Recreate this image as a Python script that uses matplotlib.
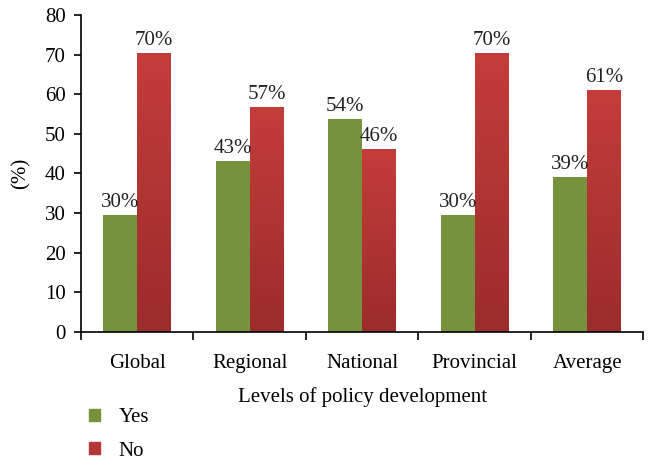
import numpy as np
import matplotlib.pyplot as plt
from matplotlib.colors import LinearSegmentedColormap

plt.rcParams['font.family'] = ['Liberation Serif', 'DejaVu Serif']

categories = ['Global', 'Regional', 'National', 'Provincial', 'Average']
yes = [29.6, 43.2, 53.8, 29.6, 39.0]
no = [70.4, 56.8, 46.2, 70.4, 61.0]

fig = plt.figure(figsize=(6.48, 4.65), dpi=100)
ax = fig.add_axes([0.125, 0.286, 0.868, 0.682])

x = np.arange(len(categories))
w = 0.3
green = '#76923C'
red_cmap = LinearSegmentedColormap.from_list('red', ['#9B2C2C', '#C43D3B'])

b1 = ax.bar(x - w / 2, yes, w, color=green, label='Yes')
b2 = ax.bar(x + w / 2, no, w, color='#B53636', label='No')

# gradient fill for the red bars
grad = np.linspace(0, 1, 256).reshape(-1, 1)
for bar in b2:
    x0, y0 = bar.get_x(), bar.get_y()
    x1, y1 = x0 + bar.get_width(), y0 + bar.get_height()
    im = ax.imshow(grad, cmap=red_cmap, origin='lower', aspect='auto',
                   extent=[x0, x1, y0, y1], zorder=bar.get_zorder() + 0.1)
    im.set_clip_path(bar)

for bars, vals in ((b1, yes), (b2, no)):
    for bar, v in zip(bars, vals):
        ax.text(bar.get_x() + bar.get_width() / 2, v + 0.8, f'{v:.0f}%',
                ha='center', va='bottom', fontsize=15, color='#222222')

ax.set_xlim(-0.5, len(categories) - 0.5)
ax.set_ylim(0, 80)
ax.set_yticks(range(0, 81, 10))
ax.set_xticks(x)
ax.set_xticklabels(categories)
ax.set_xticks(np.arange(-0.5, len(categories), 1), minor=True)
ax.tick_params(axis='x', which='major', length=0, pad=16, labelsize=15)
ax.tick_params(axis='x', which='minor', length=6, width=1.2, direction='out')
ax.tick_params(axis='y', length=5, width=1.2, labelsize=15, pad=6)
for s in ('top', 'right'):
    ax.spines[s].set_visible(False)
for s in ('left', 'bottom'):
    ax.spines[s].set_linewidth(1.2)

ax.set_ylabel('(%)', fontsize=15, labelpad=10)
ax.set_xlabel('Levels of policy development', fontsize=15, labelpad=10)

handles = [plt.Rectangle((0, 0), 1, 1, color=green),
           plt.Rectangle((0, 0), 1, 1, color='#B53636')]
fig.legend(handles, ['Yes', 'No'], loc='upper left', bbox_to_anchor=(0.125, 0.14),
           frameon=False, fontsize=15, handlelength=0.5, handleheight=0.5,
           labelspacing=0.7, handletextpad=0.9, borderaxespad=0)

fig.savefig('out.png', dpi=100)
